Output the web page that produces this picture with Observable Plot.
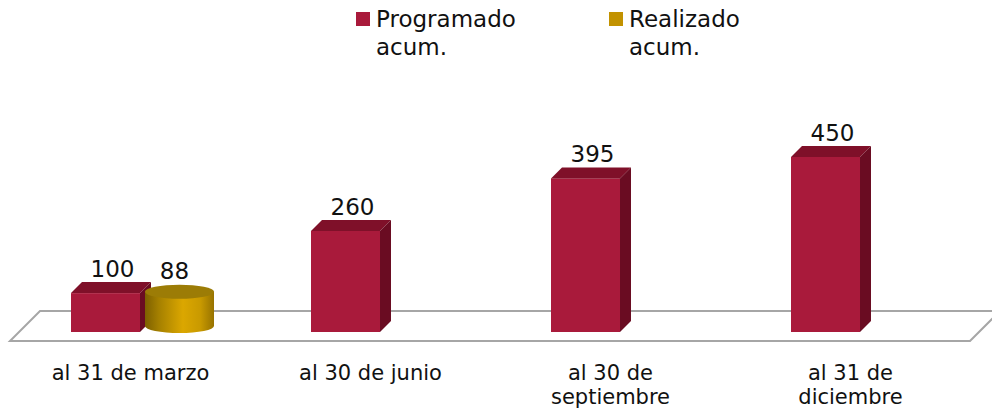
<!DOCTYPE html>
<html><head><meta charset="utf-8">
<script src="https://cdn.jsdelivr.net/npm/d3@7"></script>
<script src="https://cdn.jsdelivr.net/npm/@observablehq/plot@0.6"></script>
<style>
body{margin:0;background:#fff;}
#wrap{position:relative;width:992px;height:414px;font-family:"DejaVu Sans",sans-serif;overflow:hidden;}
.sw{position:absolute;width:14px;height:14px;}
.lab{position:absolute;font-size:23px;line-height:28px;color:#111;white-space:pre;}
#chart{position:absolute;left:0;top:0;}
</style></head>
<body><div id="wrap"><div id="chart"></div></div>
<script>
const categories = ["al 31 de marzo", "al 30 de junio", "al 30 de septiembre", "al 31 de diciembre"];
const tickLabels = ["al 31 de marzo", "al 30 de junio", "al 30 de\nseptiembre", "al 31 de\ndiciembre"];
const series = ["Programado\nacum.", "Realizado\nacum."];
const programado = [100, 260, 395, 450];
const realizado = [88, null, null, null];
const colors = ["#a91a3b", "#c29200"];

const progData = categories.map((c, i) => ({cat: c, value: programado[i]}));
const realData = categories.map((c, i) => ({cat: c, value: realizado[i]})).filter(d => d.value != null);
const catData = categories.map((c, i) => ({cat: c, label: tickLabels[i]}));

// layout constants
const D = 11;            // 3D depth
const redIn = [61, 110]; // insets in band
const goldIn = [135, 36];

function bw(x) { return x.bandwidth ? x.bandwidth() : 240; }

// floor
function floorMark(index, scales) {
  const x = scales.x, y = scales.y;
  const r = x.range();
  const b = y(0);
  const g = d3.create("svg:g");
  g.append("path")
    .attr("d", `M${r[0]},${b + 9} L${r[1]},${b + 9} L${r[1] + 30},${b - 21} L${r[0] + 30},${b - 21} Z`)
    .attr("fill", "none").attr("stroke", "#a6a6a6").attr("stroke-width", 2);
  return g.node();
}

// 3D faces and cylinder
function depthMark(index, scales) {
  const x = scales.x, y = scales.y;
  const w = bw(x);
  const g = d3.create("svg:g");
  const defs = g.append("defs");
  const grad = defs.append("linearGradient").attr("id", "goldGrad").attr("x1", 0).attr("x2", 1).attr("y1", 0).attr("y2", 0);
  [[0, "#7d6000"], [0.2, "#a58000"], [0.55, "#dba700"], [0.8, "#c99a00"], [1, "#977300"]]
    .forEach(([o, c]) => grad.append("stop").attr("offset", o).attr("stop-color", c));
  for (const d of progData) {
    const xl = x(d.cat) + redIn[0], xr = x(d.cat) + w - redIn[1];
    const yt = y(d.value), yb = y(0);
    g.append("path").attr("d", `M${xl},${yt} L${xl + D},${yt - D} L${xr + D},${yt - D} L${xr},${yt} Z`).attr("fill", "#7f1029");
    g.append("path").attr("d", `M${xr},${yt} L${xr + D},${yt - D} L${xr + D},${yb - D} L${xr},${yb} Z`).attr("fill", "#6a0c22");
  }
  for (const d of realData) {
    const xl = x(d.cat) + goldIn[0], xr = x(d.cat) + w - goldIn[1];
    const rx = (xr - xl) / 2, cx = xl + rx, ry = 7;
    const tc = y(d.value) - 6, bc = y(0) - 6;
    g.append("path")
      .attr("d", `M${xl},${tc} L${xl},${bc} A${rx},${ry} 0 0 0 ${xr},${bc} L${xr},${tc} Z`)
      .attr("fill", "url(#goldGrad)");
    g.append("ellipse").attr("cx", cx).attr("cy", tc).attr("rx", rx).attr("ry", ry).attr("fill", "#9c7c06");
  }
  return g.node();
}

const chart = Plot.plot({
  width: 992,
  height: 414,
  margin: 0,
  style: {fontFamily: "DejaVu Sans", background: "transparent", color: "#111"},
  x: {domain: categories, range: [10, 970], padding: 0, axis: null},
  y: {domain: [0, 450], range: [332, 157], axis: null},
  marks: [
    floorMark,
    Plot.barY(progData, {x: "cat", y: "value", fill: colors[0], insetLeft: redIn[0], insetRight: redIn[1]}),
    depthMark,
    Plot.text(progData, {x: "cat", y: "value", text: d => String(d.value), dx: -18, dy: -24, fontSize: 23, fill: "#111"}),
    Plot.text(realData, {x: "cat", y: "value", text: d => String(d.value), dx: 44, dy: -27, fontSize: 23, fill: "#111"}),
    Plot.text(catData, {x: "cat", y: 0, text: "label", lineAnchor: "top", dy: 30, fontSize: 21, lineHeight: 1.15, fill: "#111"})
  ]
});
document.getElementById("chart").appendChild(chart);

// legend
const wrap = document.getElementById("wrap");
const legPos = [[356, 376], [609, 629]];
series.forEach((s, i) => {
  const sw = document.createElement("div");
  sw.className = "sw";
  sw.style.left = legPos[i][0] + "px";
  sw.style.top = "12px";
  sw.style.background = colors[i];
  wrap.appendChild(sw);
  const lab = document.createElement("div");
  lab.className = "lab";
  lab.style.left = legPos[i][1] + "px";
  lab.style.top = "5px";
  lab.textContent = s;
  wrap.appendChild(lab);
});
</script>
</body></html>
